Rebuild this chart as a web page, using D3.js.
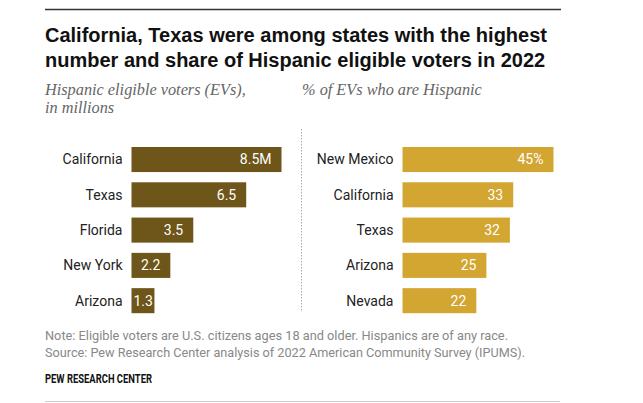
<html>
<head>
<meta charset="utf-8">
<script src="https://d3js.org/d3.v7.min.js"></script>
<style>
body {
	margin: 0;
	background: #fff;
}
</style>
</head>
<body>

<svg id="chart" width="643" height="403"></svg>

<script>

// left panel: Hispanic eligible voters, millions
var evStates = ["California", "Texas", "Florida", "New York", "Arizona"]
var evValues = [8.5, 6.5, 3.5, 2.2, 1.3]
var evLabels = ["8.5M", "6.5", "3.5", "2.2", "1.3"]

// right panel: % of EVs who are Hispanic
var shareStates = ["New Mexico", "California", "Texas", "Arizona", "Nevada"]
var shareValues = [45, 33, 32, 25, 22]
var shareLabels = ["45%", "33", "32", "25", "22"]

var sans = "Roboto, 'Liberation Sans', sans-serif"

var svg = d3.select("#chart")

svg.append("line")
	.attr("x1", 45).attr("x2", 561).attr("y1", 9.5).attr("y2", 9.5)
	.attr("stroke", "#333").attr("stroke-width", 1.3)

var title = ["California, Texas were among states with the highest",
	"number and share of Hispanic eligible voters in 2022"]

svg.selectAll(".title")
	.data(title)
	.enter().append("text")
	.attr("class", "title")
	.attr("x", 45)
	.attr("y", (d, i) => 42 + i * 25)
	.style("font-family", "'Liberation Sans', Arial, sans-serif")
	.style("font-size", "20px")
	.style("font-weight", "bold")
	.attr("fill", "#111")
	.text(d => d)

function subtitle(lines, x) {
	svg.append("g").selectAll("text")
		.data(lines)
		.enter().append("text")
		.attr("x", x)
		.attr("y", (d, i) => 95 + i * 18)
		.style("font-family", "'Liberation Serif', Georgia, serif")
		.style("font-style", "italic")
		.style("font-size", "16.3px")
		.attr("fill", "#666")
		.text(d => d)
}
subtitle(["Hispanic eligible voters (EVs),", "in millions"], 45)
subtitle(["% of EVs who are Hispanic"], 302)

var y = d3.scaleBand()
	.domain(d3.range(5))
	.range([147, 147 + 4 * 35.3 + 25])
	.paddingInner(0.29)
	.paddingOuter(0)

function panel(states, values, labels, x0, maxVal, maxW, color) {
	var x = d3.scaleLinear().domain([0, maxVal]).range([x0, x0 + maxW])
	var g = svg.append("g")

	g.selectAll("rect")
		.data(values)
		.enter().append("rect")
		.attr("x", x(0))
		.attr("y", (d, i) => y(i))
		.attr("width", d => x(d) - x(0))
		.attr("height", y.bandwidth())
		.attr("fill", color)

	g.selectAll(".cat")
		.data(states)
		.enter().append("text")
		.attr("class", "cat")
		.attr("x", x(0) - 9)
		.attr("y", (d, i) => y(i) + y.bandwidth() / 2)
		.attr("dy", "0.35em")
		.attr("text-anchor", "end")
		.style("font-family", sans)
		.style("font-size", "14px")
		.attr("fill", "#222")
		.text(d => d)

	g.selectAll(".val")
		.data(labels)
		.enter().append("text")
		.attr("class", "val")
		.attr("y", (d, i) => y(i) + y.bandwidth() / 2)
		.attr("dy", "0.35em")
		.attr("text-anchor", "end")
		.style("font-family", sans)
		.style("font-size", "14px")
		.attr("fill", "#fff")
		.text(d => d)
		.attr("x", function(d, i) {
			var w = this.getComputedTextLength()
			return Math.max(x(values[i]) - 10, x(0) + w + 2)
		})
}

panel(evStates, evValues, evLabels, 131.5, 8.5, 150, "#6e5519")
panel(shareStates, shareValues, shareLabels, 402.5, 45, 151, "#d3a531")

svg.append("line")
	.attr("x1", 301.5).attr("x2", 301.5).attr("y1", 129).attr("y2", 312)
	.attr("stroke", "#aaa").attr("stroke-width", 1)
	.attr("stroke-dasharray", "1.5,1.5")

var notes = ["Note: Eligible voters are U.S. citizens ages 18 and older. Hispanics are of any race.",
	"Source: Pew Research Center analysis of 2022 American Community Survey (IPUMS)."]
var noteWidths = [463, 480]

svg.selectAll(".note")
	.data(notes)
	.enter().append("text")
	.attr("class", "note")
	.attr("x", 45)
	.attr("y", (d, i) => 340 + i * 16.5)
	.attr("textLength", (d, i) => noteWidths[i])
	.attr("lengthAdjust", "spacingAndGlyphs")
	.style("font-family", sans)
	.style("font-size", "13px")
	.attr("fill", "#888")
	.text(d => d)

svg.append("text")
	.attr("x", 45).attr("y", 383)
	.attr("textLength", 107)
	.attr("lengthAdjust", "spacingAndGlyphs")
	.style("font-family", sans)
	.style("font-weight", "bold")
	.style("font-size", "12px")
	.attr("fill", "#111")
	.text("PEW RESEARCH CENTER")

svg.append("line")
	.attr("x1", 45).attr("x2", 560).attr("y1", 401.5).attr("y2", 401.5)
	.attr("stroke", "#ccc").attr("stroke-width", 1)

</script>
</body>
</html>
